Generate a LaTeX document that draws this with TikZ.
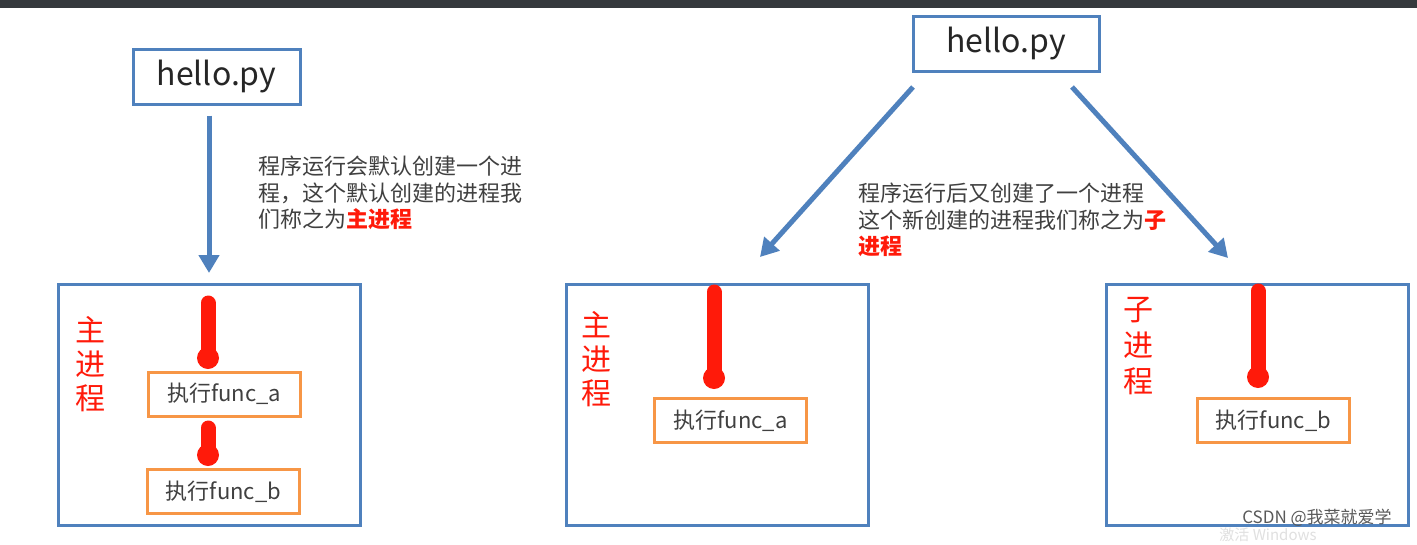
\documentclass[tikz,border=0pt]{standalone}
\usepackage{fontspec}
\setmainfont{Noto Sans CJK SC}
\usetikzlibrary{arrows.meta}
\definecolor{bblue}{HTML}{4F81BD}
\definecolor{bor}{HTML}{F79646}
\definecolor{rred}{HTML}{FF1A0A}
\definecolor{tgray}{HTML}{404040}
\definecolor{topbar}{HTML}{35393D}
\tikzset{
  file/.style={draw=bblue, line width=3pt, minimum height=55pt, inner sep=0pt, font=\fontsize{32}{36}\selectfont, text=black!85},
  proc/.style={draw=bblue, line width=3pt, minimum width=302pt, minimum height=241pt, inner sep=0pt},
  func/.style={draw=bor, line width=3pt, minimum width=152pt, minimum height=44pt, inner sep=0pt, font=\fontsize{22}{26}\selectfont, text=tgray},
  flow/.style={bblue, line width=5pt, -{Triangle[length=18pt,width=20pt]}},
  run/.style={rred, line width=15pt, line cap=round},
  blob/.style={fill=rred, draw=none},
  note/.style={align=left, anchor=north west, inner sep=0pt, font=\fontsize{22}{26.5}\selectfont, text=tgray},
  vlabel/.style={text=rred, align=center, inner sep=0pt}
}
\begin{document}
\begin{tikzpicture}[x=1pt,y=-1pt]
\useasboundingbox (0,0) rectangle (1417,544);
\fill[white] (0,0) rectangle (1417,544);
\fill[topbar] (0,0) rectangle (1417,8);

% left part
\node[file, minimum width=167pt] (h1) at (216.5,76.5) {hello.py};
\node[proc] (P1) at (209,404.5) {};
\node[func] (fa1) at (224,394) {执行func\_a};
\node[func] (fb1) at (223.5,491.5) {执行func\_b};
\node[vlabel, font=\fontsize{30}{34}\selectfont] (L1) at (90,364) {主\\进\\程};
\node[note] (n1) at (258,156) {程序运行会默认创建一个进\\程，这个默认创建的进程我\\们称之为{\color{rred}\bfseries 主进程}};
\coordinate (a1) at (209,273);
\draw[flow] ([yshift=-10pt]h1.south -| a1) -- (a1);
\coordinate (r1s) at (208,303);
\coordinate (r1e) at (208,358);
\draw[run] (r1s) -- (r1e);
\fill[blob] (r1e) circle (11pt);
\coordinate (r2s) at (208,428);
\coordinate (r2e) at (208,455);
\draw[run] (r2s) -- (r2e);
\fill[blob] (r2e) circle (11pt);

% right part
\node[file, minimum width=186pt] (h2) at (1006,43.5) {hello.py};
\node[proc] (P2) at (717.5,405) {};
\node[proc] (P3) at (1257.5,405) {};
\node[func] (fa2) at (730.5,420.5) {执行func\_a};
\node[func] (fb2) at (1273.5,420.5) {执行func\_b};
\node[vlabel, font=\fontsize{30}{34}\selectfont] (L2) at (596,359) {主\\进\\程};
\node[vlabel, font=\fontsize{30}{36}\selectfont] (L3) at (1138,346) {子\\进\\程};
\node[note] (n2) at (858,183) {程序运行后又创建了一个进程\\这个新创建的进程我们称之为{\color{rred}\bfseries 子}\\{\color{rred}\bfseries 进程}};
\coordinate (d1s) at (913,87);
\coordinate (d1e) at (760,257);
\coordinate (d2s) at (1072,87);
\coordinate (d2e) at (1228,258);
\draw[flow] (d1s) -- (d1e);
\draw[flow] (d2s) -- (d2e);
\coordinate (r3s) at (714,292);
\coordinate (r3e) at (714,378);
\draw[run] (r3s) -- (r3e);
\fill[blob] (r3e) circle (11pt);
\coordinate (r4s) at (1258,291);
\coordinate (r4e) at (1258,377);
\draw[run] (r4s) -- (r4e);
\fill[blob] (r4e) circle (11pt);

% watermarks
\node[text=black!12, font=\fontsize{15}{17}\selectfont, inner sep=0pt] (w2) at (1268,535) {激活 Windows};
\node[text=black!65, font=\fontsize{17}{20}\selectfont, inner sep=0pt] (w1) at (1317,518) {CSDN @我菜就爱学};
\end{tikzpicture}
\end{document}
